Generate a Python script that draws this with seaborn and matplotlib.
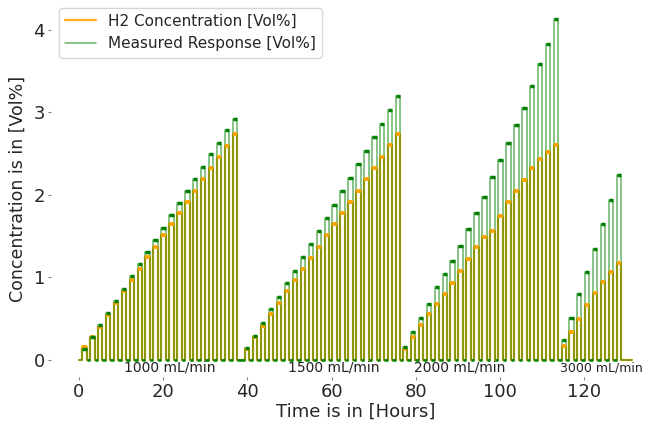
import matplotlib
matplotlib.use("Agg")
import matplotlib.pyplot as plt
import seaborn as sns
import numpy as np
import pandas as pd

# pulse start times [hours] for each flow-rate block
g1_start = [0.8, 2.7, 4.5, 6.4, 8.3, 10.2, 12.1, 14.0, 15.8, 17.7,
            19.6, 21.5, 23.4, 25.3, 27.1, 29.0, 30.9, 32.8, 34.7, 36.6]
g2_start = [39.5, 41.4, 43.3, 45.2, 47.0, 48.9, 50.8, 52.7, 54.6, 56.5,
            58.4, 60.2, 62.1, 64.0, 65.9, 67.8, 69.7, 71.5, 73.4, 75.3]
g3_start = [76.9, 78.8, 80.7, 82.6, 84.5, 86.4, 88.2, 90.1, 92.0, 93.9,
            95.8, 97.7, 99.6, 101.5, 103.4, 105.3, 107.1, 109.0, 110.9, 112.8]
g4_start = [114.7, 116.5, 118.3, 120.2, 122.1, 124.0, 125.9, 127.8]

# H2 concentration set per pulse [Vol%]
g1_h2 = [0.15, 0.27, 0.40, 0.54, 0.69, 0.83, 0.96, 1.10, 1.24, 1.37,
         1.51, 1.64, 1.78, 1.91, 2.05, 2.19, 2.32, 2.46, 2.59, 2.73]
g2_h2 = [0.13, 0.27, 0.41, 0.55, 0.69, 0.83, 0.96, 1.10, 1.23, 1.37,
         1.51, 1.64, 1.78, 1.91, 2.05, 2.19, 2.32, 2.46, 2.60, 2.74]
g3_h2 = [0.13, 0.28, 0.42, 0.55, 0.68, 0.80, 0.93, 1.07, 1.22, 1.37,
         1.49, 1.56, 1.74, 1.91, 2.04, 2.18, 2.32, 2.43, 2.52, 2.60]
g4_h2 = [0.16, 0.33, 0.49, 0.66, 0.81, 0.94, 1.06, 1.17]

# measured sensor response per pulse [Vol%]
g1_resp = [0.13, 0.27, 0.42, 0.56, 0.71, 0.86, 1.01, 1.16, 1.31, 1.45,
           1.60, 1.75, 1.90, 2.05, 2.19, 2.34, 2.49, 2.63, 2.78, 2.92]
g2_resp = [0.14, 0.29, 0.45, 0.61, 0.76, 0.93, 1.08, 1.24, 1.40, 1.56,
           1.72, 1.88, 2.04, 2.20, 2.37, 2.53, 2.70, 2.86, 3.03, 3.20]
g3_resp = [0.15, 0.33, 0.50, 0.67, 0.88, 1.04, 1.20, 1.38, 1.58, 1.78,
           1.97, 2.21, 2.42, 2.63, 2.84, 3.05, 3.32, 3.59, 3.83, 4.13]
g4_resp = [0.24, 0.51, 0.79, 1.06, 1.34, 1.64, 1.93, 2.24]

flow_labels = ["1000 mL/min", "1500 mL/min", "2000 mL/min", "3000 mL/min"]
pulse_hours = 1.0
record_end = 131.3

starts = np.array(g1_start + g2_start + g3_start + g4_start)
h2 = np.array(g1_h2 + g2_h2 + g3_h2 + g4_h2)
resp = np.array(g1_resp + g2_resp + g3_resp + g4_resp)


def steps(start, value):
    x = [0.0]
    y = [0.0]
    for s, v in zip(start, value):
        x += [s, s + pulse_hours]
        y += [v, 0.0]
    x.append(record_end)
    y.append(0.0)
    return x, y


sns.set_style("ticks")
plt.rcParams["font.family"] = ["DejaVu Sans"]

fig = plt.figure(figsize=(6.51, 4.25), dpi=100)
ax = fig.add_axes([0.0788, 0.113, 0.9344, 0.887])

x, y = steps(starts, h2)
sns.lineplot(x=x, y=y, drawstyle="steps-post", color="orange", lw=1.6,
             alpha=0.9, sort=False, estimator=None,
             label="H2 Concentration [Vol%]", ax=ax)
ax.hlines(h2, starts, starts + pulse_hours, colors="orange", lw=2.8, zorder=2.5)

x, y = steps(starts, resp)
sns.lineplot(x=x, y=y, drawstyle="steps-post", color="green", lw=1.1,
             alpha=0.6, sort=False, estimator=None,
             label="Measured Response [Vol%]", ax=ax)
ax.hlines(resp, starts, starts + pulse_hours, colors="green", lw=2.5, zorder=3)
ax.hlines(np.zeros(len(starts) - 1), starts[:-1] + pulse_hours, starts[1:],
          colors="green", lw=1.8, zorder=3)

label_x = [21.6, 60.6, 90.5, 124.0]
label_size = [10, 10, 10, 9]
for lx, txt, fs in zip(label_x, flow_labels, label_size):
    ax.text(lx, -0.1, txt, ha="center", va="center", fontsize=fs, color="#222222")

ax.set_xlim(-6.57, 137.9)
ax.set_ylim(-0.21, 4.36)
ax.set_xticks([0, 20, 40, 60, 80, 100, 120])
ax.set_yticks([0, 1, 2, 3, 4])
ax.tick_params(labelsize=13, length=2.5, color="0.5", pad=2)
ax.set_xlabel("Time is in [Hours]", fontsize=13, labelpad=1)
ax.set_ylabel("Concentration is in [Vol%]", fontsize=12.5, labelpad=5)
sns.despine(ax=ax, left=True, bottom=True)
ax.legend(loc="upper left", fontsize=11, frameon=True)

fig.savefig("out.png", dpi=100)
